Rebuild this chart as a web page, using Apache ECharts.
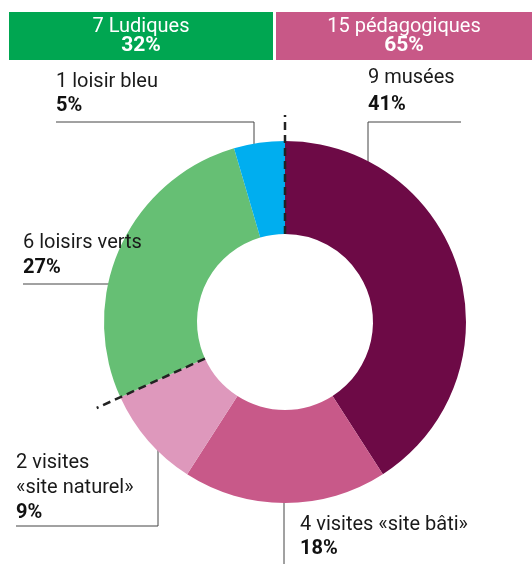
<!DOCTYPE html>
<html><head><meta charset="utf-8">
<script src="https://cdn.jsdelivr.net/npm/echarts@6/dist/echarts.min.js"></script>
<style>html,body{margin:0;padding:0;background:#fff}#c{width:532px;height:564px}</style>
</head><body><div id="c"></div>
<script>
// Data
const categories = ['9 musées', '4 visites «site bâti»', '2 visites\n«site naturel»', '6 loisirs verts', '1 loisir bleu'];
const counts = [9, 4, 2, 6, 1];
const percentLabels = ['41%', '18%', '9%', '27%', '5%'];
const groupNames = ['7 Ludiques', '15 pédagogiques'];
const groupPercents = ['32%', '65%'];

// Styles / layout
const sliceColors = ['#6d0a46', '#c85989', '#de98bc', '#66bf74', '#00aeef'];
const cx = 285, cy = 322, r0 = 88, r1 = 181;
const FONT = 'Roboto, "DejaVu Sans", sans-serif';
const labelPos = [
  {x: 368, y: 64, lh: 27, pts: [[368, 180], [368, 122], [461, 122]]},
  {x: 300, y: 513, lh: 24, pts: [[284, 452], [284, 508], [284, 564]]},
  {x: 16, y: 450, lh: 25, pts: [[158, 410], [158, 526], [16, 526]]},
  {x: 23, y: 230, lh: 25, pts: [[182, 284], [100, 284], [23, 284]]},
  {x: 56, y: 70, lh: 24, pts: [[254, 164], [254, 122], [56, 122]]}
];

const chart = echarts.init(document.getElementById('c'), null, {renderer: 'canvas'});

// dashed separators at group boundaries (computed from data)
const total = counts.reduce((a, b) => a + b, 0);
function angleAt(k) {
  let s = 0; for (let i = 0; i < k; i++) s += counts[i];
  return s / total * Math.PI * 2;
}
const sepAngles = [angleAt(0), angleAt(3)];
const graphics = [];
sepAngles.forEach(a => {
  const ra = r0, rb = 207;
  graphics.push({
    type: 'line', z: 100,
    shape: {x1: cx + ra * Math.sin(a), y1: cy - ra * Math.cos(a), x2: cx + rb * Math.sin(a), y2: cy - rb * Math.cos(a)},
    style: {stroke: '#222', lineWidth: 2.5, lineDash: [8, 5]}
  });
});
// group banners
const banners = [
  {x: 9, w: 264, color: '#00a651'},
  {x: 276, w: 256, color: '#c85887'}
];
banners.forEach((b, i) => {
  graphics.push({type: 'rect', shape: {x: b.x, y: 12, width: b.w, height: 48}, style: {fill: b.color}});
  graphics.push({type: 'text', x: b.x + b.w / 2, y: 18, style: {
    text: '{a|' + groupNames[i] + '}\n{b|' + groupPercents[i] + '}',
    align: 'center', verticalAlign: 'top',
    rich: {
      a: {fill: '#fff', font: '20px ' + FONT, lineHeight: 17, align: 'center'},
      b: {fill: '#fff', font: 'bold 21px ' + FONT, lineHeight: 21, align: 'center'}
    }
  }});
});

chart.setOption({
  backgroundColor: '#fff',
  animation: false,
  graphic: graphics,
  series: [{
    type: 'pie',
    center: [cx, cy],
    radius: [r0, r1],
    startAngle: 90,
    clockwise: true,
    avoidLabelOverlap: false,
    itemStyle: {borderWidth: 0},
    emphasis: {disabled: true},
    data: counts.map((v, i) => ({
      value: v, name: categories[i],
      itemStyle: {color: sliceColors[i]},
      label: {rich: {
        n: {fontFamily: FONT, fontSize: 20, color: '#1a1a1a', lineHeight: labelPos[i].lh},
        p: {fontFamily: FONT, fontSize: 20, fontWeight: 'bold', color: '#111', lineHeight: labelPos[i].lh}
      }}
    })),
    label: {
      show: true,
      formatter: p => categories[p.dataIndex].split('\n').map(s => '{n|' + s + '}').join('\n') + '\n{p|' + percentLabels[p.dataIndex] + '}',
      align: 'left'
    },
    labelLine: {show: true, lineStyle: {color: '#444', width: 1}},
    labelLayout: function (params) {
      const lp = labelPos[params.dataIndex];
      return {x: lp.x, y: lp.y, align: 'left', verticalAlign: 'top', labelLinePoints: lp.pts};
    }
  }]
});
</script></body></html>
